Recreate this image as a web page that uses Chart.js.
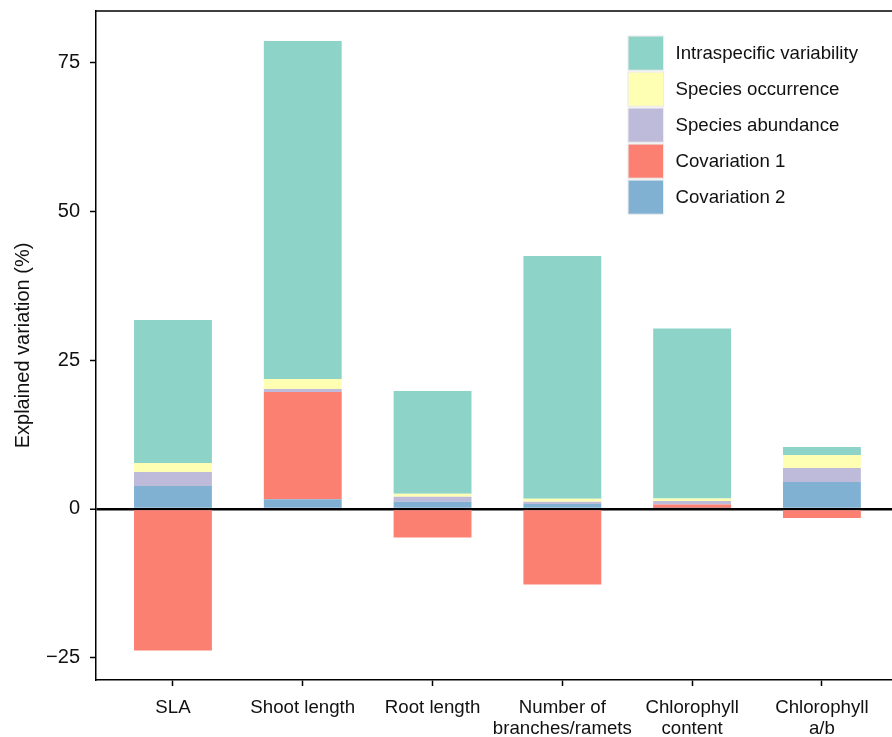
<!DOCTYPE html>
<html>
<head>
<meta charset="utf-8">
<title>Explained variation</title>
<script src="https://cdn.jsdelivr.net/npm/chart.js@4.4.1/dist/chart.umd.min.js"></script>
<style>
  html, body { margin: 0; padding: 0; background: #fff; overflow: hidden; }
</style>
</head>
<body>
<canvas id="chart" width="892" height="737"></canvas>
<script>
// traits on the x axis (line breaks as in the figure)
const categories = ['SLA', 'Shoot length', 'Root length', 'Number of\nbranches/ramets', 'Chlorophyll\ncontent', 'Chlorophyll\na/b'];

// explained variation (%) per component
const covariation2 = [3.87, 1.63, 1.23, 0.84, 0.15, 4.54];
const covariation1 = [-23.8, 18.03, -4.8, -12.7, 0.6, -1.5];
const speciesAbundance = [2.35, 0.5, 0.84, 0.39, 0.6, 2.35];
const speciesOccurrence = [1.51, 1.68, 0.5, 0.5, 0.4, 2.19];
const intraspecific = [24.03, 56.8, 17.26, 40.8, 28.6, 1.34];

const yTicks = [-25, 0, 25, 50, 75];

const FONT = "'Liberation Sans', Arial, Helvetica, sans-serif";
const FS = 18.67;
const FS_Y = 20;

const toPoints = (arr) => arr.map((v, i) => ({ x: i, y: v }));

// stacking order is bottom -> top, the legend shows it reversed
const datasets = [
  { label: 'Covariation 2', data: toPoints(covariation2), backgroundColor: '#80b1d3' },
  { label: 'Covariation 1', data: toPoints(covariation1), backgroundColor: '#fb8072' },
  { label: 'Species abundance', data: toPoints(speciesAbundance), backgroundColor: '#bebada' },
  { label: 'Species occurrence', data: toPoints(speciesOccurrence), backgroundColor: '#ffffb3' },
  { label: 'Intraspecific variability', data: toPoints(intraspecific), backgroundColor: '#8dd3c7' },
];

// legend drawn inside the plot, top right
const boxLegend = {
  id: 'boxLegend',
  afterDraw(chart) {
    const { ctx, chartArea } = chart;
    const items = chart.data.datasets.slice().reverse();
    const x0 = chartArea.right - 264;
    const y0 = chartArea.top + 25;
    ctx.save();
    ctx.font = FS + 'px ' + FONT;
    ctx.textBaseline = 'middle';
    ctx.textAlign = 'left';
    items.forEach((ds, i) => {
      const y = y0 + i * 36;
      ctx.fillStyle = ds.backgroundColor;
      ctx.fillRect(x0, y, 35.6, 34.3);
      ctx.strokeStyle = '#ececec';
      ctx.lineWidth = 1.2;
      ctx.strokeRect(x0, y, 35.6, 34.3);
      ctx.fillStyle = '#111';
      ctx.fillText(ds.label, x0 + 47.5, y + 17.5);
    });
    ctx.restore();
  }
};

// top spine of the frame
const topSpine = {
  id: 'topSpine',
  afterDraw(chart) {
    const { ctx, chartArea } = chart;
    ctx.save();
    ctx.strokeStyle = '#000';
    ctx.lineWidth = 1.5;
    ctx.beginPath();
    ctx.moveTo(chartArea.left, chartArea.top);
    ctx.lineTo(chartArea.right, chartArea.top);
    ctx.stroke();
    ctx.restore();
  }
};

new Chart(document.getElementById('chart'), {
  type: 'bar',
  data: { datasets: datasets },
  options: {
    responsive: false,
    animation: false,
    layout: { padding: { top: 11, right: 0, left: 0, bottom: 0 } },
    datasets: { bar: { barPercentage: 0.6, categoryPercentage: 1.0, borderWidth: 0 } },
    plugins: {
      legend: { display: false },
      tooltip: { enabled: false },
    },
    scales: {
      x: {
        type: 'linear',
        stacked: true,
        offset: false,
        min: -0.593,
        max: 5.54,
        afterFit: (scale) => { scale.height = 57; },
        border: { display: true, color: '#000', width: 1.5 },
        grid: { offset: false, color: 'rgba(0,0,0,0)', tickColor: '#000', tickLength: 6, tickWidth: 1.5 },
        ticks: {
          stepSize: 1,
          includeBounds: false,
          autoSkip: false,
          maxRotation: 0,
          padding: 11,
          color: '#111',
          font: { family: FONT, size: FS, lineHeight: 1.12 },
          callback: (v) => (Number.isInteger(v) && categories[v] ? categories[v].split('\n') : ''),
        },
      },
      y: {
        stacked: true,
        min: -28.75,
        max: 83.7,
        z: 1,
        afterFit: (scale) => {
          scale.width = 96;
          scale.paddingTop = 0;
          scale.paddingBottom = 0;
        },
        afterBuildTicks: (scale) => { scale.ticks = yTicks.map((v) => ({ value: v })); },
        border: { display: true, color: '#000', width: 1.5 },
        grid: {
          color: (c) => (c.tick && c.tick.value === 0 ? '#000' : 'rgba(0,0,0,0)'),
          lineWidth: (c) => (c.tick && c.tick.value === 0 ? 2.5 : 1),
          tickColor: '#000',
          tickLength: 6,
          tickWidth: 1.5,
        },
        ticks: {
          padding: 10,
          color: '#111',
          font: { family: FONT, size: FS_Y },
          callback: (v) => (v < 0 ? '\u2212' + Math.abs(v) : String(v)),
        },
        title: {
          display: true,
          text: 'Explained variation (%)',
          color: '#111',
          font: { family: FONT, size: FS_Y },
          padding: { top: 11, bottom: 0 },
        },
      },
    },
  },
  plugins: [boxLegend, topSpine],
});
</script>
</body>
</html>
